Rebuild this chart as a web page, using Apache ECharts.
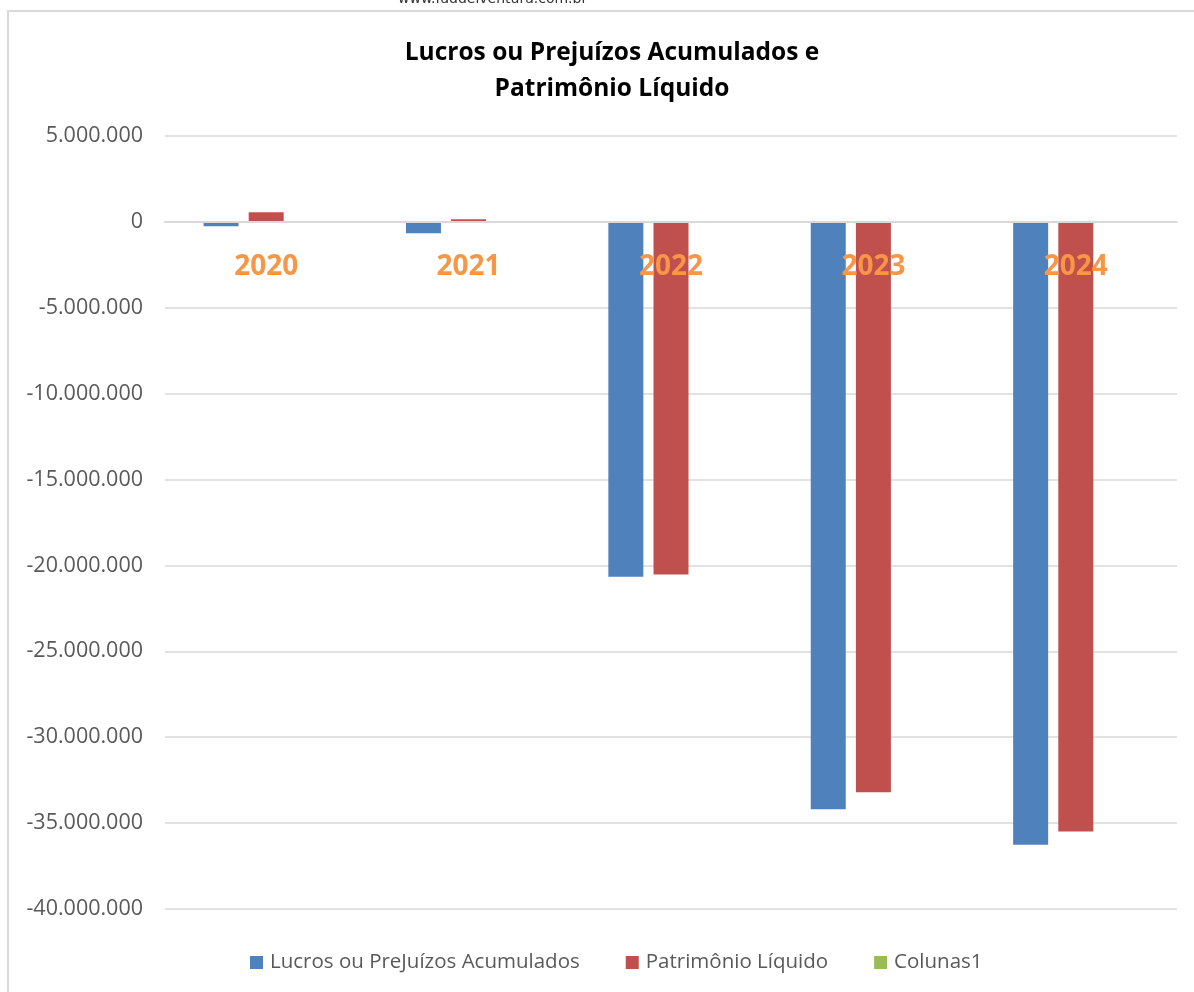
<!doctype html>
<html>
<head>
    <meta charset="UTF-8">
    <title>Lucros ou Prejuízos Acumulados e Patrimônio Líquido</title>
    <script src="https://cdn.jsdelivr.net/npm/echarts@6/dist/echarts.min.js"></script>
    <style>
        html, body { margin: 0; padding: 0; background: #fff; }
        #main { width: 1194px; height: 992px; }
    </style>
</head>
<body>
<div id="main"></div>
<script>
    // dados
    var anos = ['2020', '2021', '2022', '2023', '2024'];
    var lucrosPrejuizos = [-250000, -660000, -20660000, -34200000, -36260000];
    var patrimonioLiquido = [560000, 150000, -20530000, -33200000, -35490000];
    var colunas1 = [null, null, null, null, null];
    var nomesSeries = ['Lucros ou PreJuízos Acumulados', 'Patrimônio Líquido', 'Colunas1'];

    var fonte = '"Open Sans", "Noto Sans", sans-serif';

    // 5000000 -> 5.000.000
    var formatar = function (v) {
        var s = Math.abs(v).toString().replace(/\B(?=(\d{3})+(?!\d))/g, '.');
        return (v < 0 ? '-' : '') + s;
    };

    var myChart = echarts.init(document.getElementById('main'));

    var option = {
        backgroundColor: '#fff',
        animation: false,
        title: {
            text: 'Lucros ou Prejuízos Acumulados e\nPatrimônio Líquido',
            left: 607,
            textAlign: 'center',
            top: 30,
            textStyle: {
                fontFamily: fonte,
                fontSize: 24.5,
                fontWeight: 'bold',
                color: '#000',
                lineHeight: 36
            }
        },
        graphic: [
            {
                type: 'text',
                left: 398,
                top: -8,
                style: {
                    text: 'www.faddelventura.com.br',
                    font: '14px "DejaVu Sans", sans-serif',
                    fill: '#333'
                }
            },
            {
                type: 'polyline',
                shape: { points: [[8, 992], [8, 11], [1194, 11]] },
                style: { stroke: '#d9d9d9', lineWidth: 2, fill: null }
            }
        ],
        legend: {
            bottom: 14,
            left: 245,
            itemWidth: 13,
            itemHeight: 13,
            itemGap: 46,
            icon: 'rect',
            textStyle: { fontFamily: fonte, fontSize: 20.5, color: '#595959', padding: [0, 0, 0, 2] },
            data: nomesSeries
        },
        grid: { left: 165, right: 17, top: 136, bottom: 83 },
        xAxis: {
            type: 'category',
            data: anos,
            position: 'bottom',
            // eixo levado até a linha do zero, rótulos por cima das barras
            offset: -687,
            z: 10,
            axisLine: { show: true, onZero: false, lineStyle: { color: '#d9d9d9', width: 2 } },
            axisTick: { show: false },
            axisLabel: {
                margin: 31,
                fontFamily: fonte,
                fontSize: 28,
                fontWeight: 'bold',
                color: '#F79646'
            }
        },
        yAxis: {
            type: 'value',
            min: -40000000,
            max: 5000000,
            interval: 5000000,
            axisLine: { show: false },
            axisTick: { show: false },
            splitLine: { lineStyle: { color: '#d9d9d9', width: 1.5 } },
            axisLabel: {
                margin: 22,
                fontFamily: fonte,
                fontSize: 21.5,
                color: '#595959',
                formatter: formatar
            }
        },
        series: [
            {
                name: nomesSeries[0],
                type: 'bar',
                data: lucrosPrejuizos,
                barWidth: 35,
                barGap: '29%',
                itemStyle: { color: '#4F81BD' }
            },
            {
                name: nomesSeries[1],
                type: 'bar',
                data: patrimonioLiquido,
                barWidth: 35,
                barGap: '29%',
                itemStyle: { color: '#C0504D' }
            },
            {
                name: nomesSeries[2],
                type: 'bar',
                data: colunas1,
                barWidth: 35,
                barGap: '29%',
                itemStyle: { color: '#9BBB59' }
            }
        ]
    };

    myChart.setOption(option);
</script>
</body>
</html>
